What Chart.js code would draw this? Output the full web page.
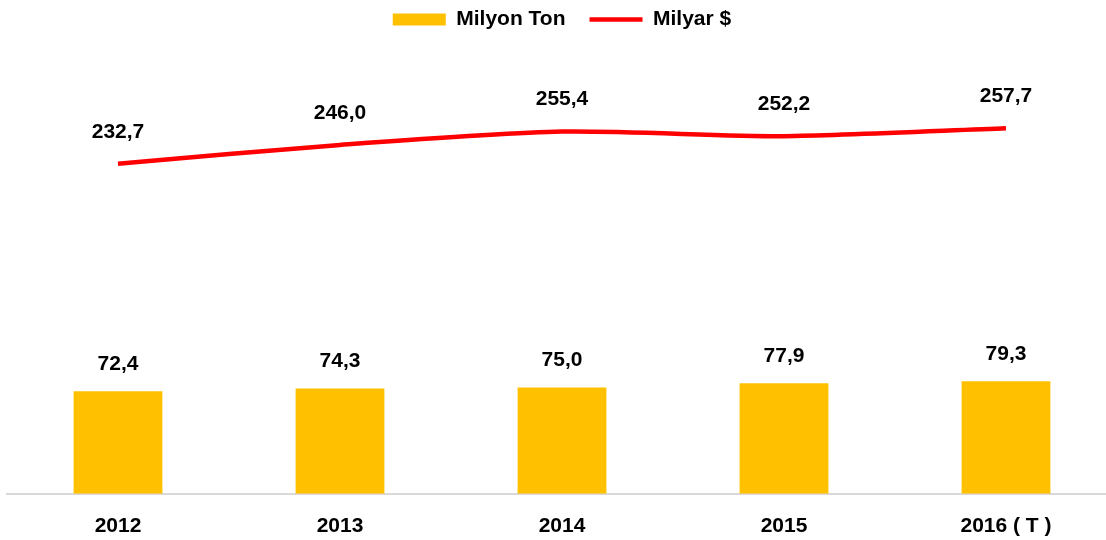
<!DOCTYPE html>
<html>
<head>
<meta charset="utf-8">
<script src="https://cdn.jsdelivr.net/npm/chart.js@4/dist/chart.umd.min.js"></script>
<style>
    html, body { margin: 0; padding: 0; background: #fff; overflow: hidden; }
    #wrap { width: 1117px; height: 540px; }
</style>
</head>
<body>
<div id="wrap"><canvas id="tradeChart"></canvas></div>
<script>
const years = ['2012', '2013', '2014', '2015', '2016 ( T )'];
const milyonTon = [72.4, 74.3, 75.0, 77.9, 79.3];
const milyarDolar = [232.7, 246.0, 255.4, 252.2, 257.7];

const labelFont = 'bold 21px "Liberation Sans", Arial, sans-serif';

// draws the value above each bar / point, comma as decimal mark
const valueLabels = {
    id: 'valueLabels',
    afterDatasetsDraw(chart) {
        const ctx = chart.ctx;
        ctx.save();
        ctx.font = labelFont;
        ctx.fillStyle = '#000';
        ctx.textAlign = 'center';
        ctx.textBaseline = 'middle';
        chart.data.datasets.forEach((ds, i) => {
            const meta = chart.getDatasetMeta(i);
            const offset = ds.type === 'line' ? 32 : 27;
            meta.data.forEach((el, j) => {
                const txt = ds.data[j].toFixed(1).replace('.', ',');
                ctx.fillText(txt, el.x, el.y - offset);
            });
        });
        ctx.restore();
    }
};

new Chart(document.getElementById('tradeChart').getContext('2d'), {
    type: 'bar',
    data: {
        labels: years,
        datasets: [{
            type: 'line',
            label: 'Milyar $',
            data: milyarDolar,
            borderColor: '#ff0000',
            backgroundColor: '#ff0000',
            borderWidth: 4.5,
            pointRadius: 0,
            tension: 0.25,
            order: 0
        }, {
            type: 'bar',
            label: 'Milyon Ton',
            data: milyonTon,
            backgroundColor: '#ffc000',
            barPercentage: 0.4,
            categoryPercentage: 1,
            order: 1
        }]
    },
    options: {
        responsive: true,
        maintainAspectRatio: false,
        animation: false,
        layout: {
            padding: { left: 7, right: 0, top: -15, bottom: -19 }
        },
        plugins: {
            legend: {
                position: 'top',
                align: 'center',
                reverse: true,
                labels: {
                    font: { family: '"Liberation Sans", Arial, sans-serif', size: 21, weight: 'bold' },
                    color: '#000',
                    usePointStyle: true,
                    pointStyleWidth: 53,
                    boxHeight: 12,
                    padding: 24,
                    generateLabels(chart) {
                        const items = Chart.defaults.plugins.legend.labels.generateLabels(chart);
                        items.forEach(it => {
                            const ds = chart.data.datasets[it.datasetIndex];
                            if (ds.type === 'line') {
                                it.pointStyle = 'line';
                                it.lineWidth = 4.5;
                                it.strokeStyle = '#ff0000';
                            } else {
                                it.pointStyle = 'rect';
                                it.lineWidth = 0;
                            }
                        });
                        return items;
                    }
                }
            },
            tooltip: { enabled: false }
        },
        scales: {
            y: {
                display: false,
                beginAtZero: true,
                min: 0,
                max: 320
            },
            x: {
                grid: { display: false, drawTicks: false },
                border: { display: true, color: '#d9d9d9', width: 2 },
                ticks: {
                    color: '#000',
                    padding: 20,
                    font: { family: '"Liberation Sans", Arial, sans-serif', size: 21, weight: 'bold' }
                }
            }
        }
    },
    plugins: [valueLabels]
});
</script>
</body>
</html>
